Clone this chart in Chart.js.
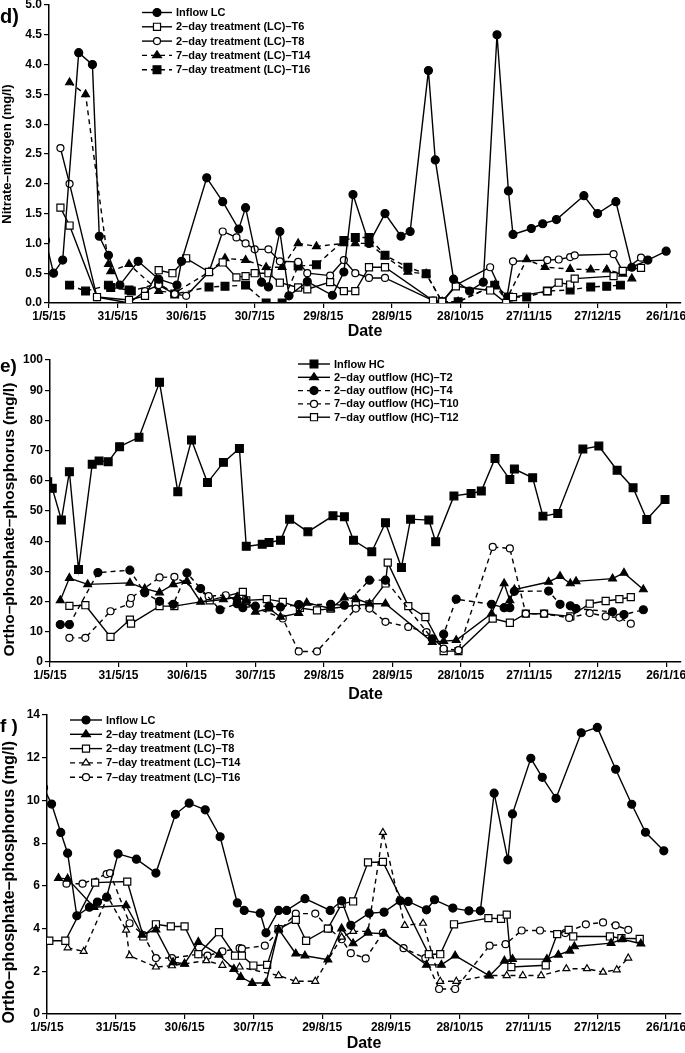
<!DOCTYPE html>
<html>
<head>
<meta charset="utf-8">
<script src="https://cdn.jsdelivr.net/npm/chart.js@4.4.0/dist/chart.umd.min.js"></script>
<style>
html, body { margin: 0; padding: 0; background: #fff; }
#wrap { position: relative; width: 685px; height: 1053px; overflow: hidden; }
#wrap canvas { position: absolute; left: 0; }
.lab { position: absolute; left: 0; font: bold 19px "Liberation Sans", Arial, sans-serif; color: #000; line-height: 1; }
</style>
</head>
<body>
<div id="wrap">
  <canvas id="cd" width="700" height="350" style="top:-5px"></canvas>
  <canvas id="ce" width="700" height="360" style="top:345px"></canvas>
  <canvas id="cf" width="700" height="348" style="top:705px"></canvas>
  <div class="lab" style="top:6px;font-size:20px">d)</div>
  <div class="lab" style="top:356px">e)</div>
  <div class="lab" style="top:716px">f )</div>
</div>
<script>
// x values are days counted from 1/5/15
var tickDays = [0, 30, 60, 90, 120, 150, 180, 210, 240, 270];
var tickLabels = ['1/5/15', '31/5/15', '30/6/15', '30/7/15', '29/8/15', '28/9/15', '28/10/15', '27/11/15', '27/12/15', '26/1/16'];

// d) nitrate-nitrogen (mg/l)
var dNames = ['Inflow LC', '2\u2013day treatment (LC)\u2013T6', '2\u2013day treatment (LC)\u2013T8', '7\u2013day treatment (LC)\u2013T14', '7\u2013day treatment (LC)\u2013T16'];
var dInflow = [[-1.5,1.05],[2,0.5],[6,0.72],[13,4.2],[19,4.0],[22,1.12],[26,0.8],[31,0.3],[39,0.7],[48,0.4],[56,0.3],[58,0.7],[69,2.1],[76,1.7],[83,1.24],[86,1.6],[93,0.35],[96,0.27],[101,1.2],[105,0.12],[113,0.36],[124,0.13],[129,0.52],[133,1.82],[140,1.0],[147,1.5],[154,1.12],[158,1.2],[166,3.9],[169,2.4],[177,0.4],[184,0.2],[190,0.35],[196,4.5],[201,1.88],[203,1.15],[211,1.25],[216,1.33],[222,1.4],[234,1.8],[240,1.5],[248,1.7],[255,0.6],[262,0.72],[270,0.87]];
var dT6 = [[5,1.6],[9,1.3],[21,0.1],[35,0.05],[42,0.12],[48,0.55],[54,0.5],[60,0.75],[70,0.52],[76,0.68],[82,0.43],[86,0.45],[90,0.5],[96,0.5],[101,0.34],[109,0.26],[113,0.23],[123,0.35],[129,0.2],[134,0.2],[140,0.6],[147,0.6],[168,0.04],[172,0.02],[178,0.28],[193,0.21],[200,0.0],[203,0.1],[218,0.2],[223,0.34],[228,0.31],[230,0.41],[247,0.45],[251,0.54],[259,0.59]];
var dT8 = [[5,2.6],[9,2.0],[21,0.1],[35,0.0],[42,0.2],[48,0.3],[55,0.15],[60,0.12],[70,0.52],[76,1.2],[82,1.1],[86,1.0],[90,0.9],[96,0.9],[101,0.7],[109,0.69],[113,0.5],[123,0.46],[129,0.72],[134,0.5],[140,0.42],[147,0.42],[168,0.04],[172,0.02],[178,0.3],[193,0.6],[200,0.02],[203,0.7],[218,0.72],[223,0.73],[228,0.77],[230,0.8],[247,0.82],[251,0.53],[259,0.76]];
var dT14 = [[9,3.7],[16,3.5],[26,0.65],[27,0.53],[35,0.65],[48,0.2],[55,0.17],[70,0.52],[77,0.75],[86,0.72],[95,0.6],[102,0.6],[109,1.0],[117,0.95],[129,1.0],[134,1.0],[140,1.0],[147,0.78],[157,0.52],[165,0.49],[172,0.02],[179,0.02],[195,0.3],[200,0.05],[209,0.73],[217,0.6],[228,0.57],[237,0.56],[244,0.56],[251,0.49],[255,0.41]];
var dT16 = [[9,0.3],[16,0.2],[26,0.3],[27,0.26],[35,0.22],[36,0.2],[48,0.33],[55,0.15],[70,0.27],[77,0.28],[86,0.3],[95,0.0],[102,0.0],[109,0.62],[117,0.64],[129,1.05],[134,1.1],[140,1.1],[147,0.8],[157,0.6],[165,0.49],[172,0.02],[179,0.02],[195,0.3],[201,0.1],[209,0.1],[218,0.2],[228,0.22],[237,0.27],[244,0.28],[250,0.3]];

// e) ortho-phosphate-phosphorus, HC (mg/l)
var eNames = ['Inflow HC', '2\u2013day outflow (HC)\u2013T2', '2\u2013day outflow (HC)\u2013T4', '7\u2013day outflow (HC)\u2013T10', '7\u2013day outflow (HC)\u2013T12'];
var eInflow = [[-1,59.7],[1,57.5],[5,47],[8.5,63],[12.5,30.6],[18.5,65.5],[21.5,66.6],[25.5,66.3],[30.5,71.3],[39,74.4],[48,92.6],[56,56.4],[62,73.5],[69,59.4],[76,66.1],[83,70.7],[86,38.3],[93,39],[96,39.6],[101,40.3],[105,47.3],[113,43.1],[124,48.4],[129,48.1],[133,40.3],[141,36.5],[147,46.1],[154,31.3],[158,47.3],[166,47],[169,39.8],[177,55],[184.5,55.8],[189,56.6],[195,67.4],[201.5,60.4],[203.5,63.9],[211.5,61],[216,48.3],[222.5,49.2],[233.5,70.5],[240.5,71.5],[248.5,63.5],[255.5,57.7],[261.5,47.2],[269.5,53.8]];
var eT2 = [[4.5,20.4],[8.5,27.8],[16.5,25.7],[35,26.2],[41.5,24.3],[48,23],[54,25.7],[60,26.8],[66,19.9],[76,20.7],[82,21.5],[86,20.5],[90,16.6],[96,17.7],[101,14.9],[109,16.2],[112.5,19.6],[123,17.7],[129,21.3],[134,21],[140,19.3],[147,19.3],[167.5,6.6],[172.5,6.9],[178,7.2],[193.5,16],[199,26],[201.5,20.4],[203.5,24],[218.5,26.5],[223.5,28.4],[228,26],[230.5,26.7],[246.5,27.6],[251.5,29.5],[260,24]];
var eT4 = [[4.5,12.4],[8.5,12.4],[21,29.6],[35,30.4],[41.5,22.9],[48,20.1],[54,19.1],[60,29.5],[66,24.3],[74.5,17.3],[82,19.3],[84.5,18],[90,18.5],[96,18.5],[101,18.2],[109,19],[123,19.1],[129,18.8],[140,27.1],[147,27.1],[167.5,7.7],[172.5,9.2],[178,20.8],[193.5,19.1],[199,18],[201.5,18],[203.5,23.4],[218.5,23.5],[223.5,19.1],[228,18.6],[230.5,17.7],[246.5,16.6],[251.5,15.7],[260,17.3]];
var eT10 = [[8.5,8],[15.5,8],[26.5,16.8],[35,19.3],[35.5,21.2],[48,28],[54.5,28.2],[69.5,21.8],[77,22.1],[82,20.4],[102,14.4],[109,3.5],[117,3.5],[134,17.7],[140,17.7],[147,13.3],[157,11.6],[165,9.9],[172.5,4.4],[179,3.9],[194,38.1],[201.5,37.6],[208.5,16],[216.5,16],[227.5,14.6],[236.5,16.2],[243.5,15.1],[249.5,14.7],[254.5,12.7]];
var eT12 = [[8.5,18.6],[15.5,18.8],[26.5,8.3],[35,14],[35.5,12.7],[48,18.5],[54.5,18.5],[70,20.4],[84.5,23.2],[86,20.4],[95,20.8],[102,19.9],[109.5,17.9],[117,17.1],[123,17.7],[134,18.8],[140,19.1],[147,26],[148,32.9],[157,18.5],[164.5,14.9],[172.5,3.6],[179,3.6],[194,14.4],[201.5,13],[208.5,16],[216.5,16],[228,15.1],[236.5,19.3],[243.5,20.2],[249.5,20.8],[254.5,21.5]];

// f) ortho-phosphate-phosphorus, LC (mg/l)
var fNames = ['Inflow LC', '2\u2013day treatment (LC)\u2013T6', '2\u2013day treatment (LC)\u2013T8', '7\u2013day treatment (LC)\u2013T14', '7\u2013day treatment (LC)\u2013T16'];
var fInflow = [[-1.5,10.6],[2,9.83],[6,8.5],[9,7.53],[13,4.6],[18.5,5.0],[22,5.24],[26,5.47],[31,7.5],[39,7.25],[47.5,6.6],[56,9.35],[62,9.87],[69,9.56],[75.5,8.3],[83,5.2],[86,4.85],[93,4.72],[95.5,3.8],[101,4.85],[104.5,4.85],[112.5,5.4],[123.5,4.85],[128.5,5.3],[132.5,4.15],[140.5,4.72],[147,4.77],[154,5.3],[157.5,5.27],[165.5,4.88],[169,5.35],[177,4.96],[184,4.83],[189,4.83],[195,10.34],[201,7.22],[203,9.37],[211,11.97],[216,11.08],[222,10.1],[233,13.17],[240,13.42],[248,11.46],[255,9.82],[261,8.51],[269,7.64]];
var fT6 = [[5,6.36],[9,6.33],[20.5,5.0],[34.5,5.08],[41.5,3.7],[47.5,3.95],[55,2.42],[60,2.35],[66,3.37],[75,2.77],[81.5,2.1],[84.5,1.73],[89.5,1.45],[95.5,1.45],[101,3.97],[108.5,2.82],[112.5,2.73],[122.5,2.54],[128.5,4.0],[133.5,3.3],[140,3.8],[147,3.76],[165.5,2.3],[172,2.3],[178,2.73],[193,1.79],[199.5,2.49],[203,2.57],[218,2.57],[223,2.77],[228,2.96],[230,3.16],[246,3.32],[251,3.5],[259,3.29]];
var fT8 = [[1,3.43],[8,3.43],[21,6.15],[35,6.2],[42,3.63],[47.5,4.2],[54,4.1],[60,4.1],[66,2.8],[75,3.83],[82,2.73],[85,2.73],[90,2.27],[96,2.3],[101,3.97],[108.5,4.41],[113,3.43],[122.5,4.0],[128.5,5.16],[133.5,5.27],[140,7.1],[146.5,7.12],[166.5,2.8],[171.5,2.8],[177.5,4.2],[192.5,4.49],[198,4.46],[200.5,4.65],[202.5,2.2],[217.5,2.28],[222.5,3.74],[227.5,3.94],[229.5,3.63],[245.5,3.63],[250.5,3.55],[258.5,3.52]];
var fT14 = [[9,3.1],[16,2.93],[26.5,5.5],[34.5,3.93],[36,2.73],[47.5,2.2],[54.5,2.26],[60,2.35],[69.5,2.5],[76.5,2.28],[84,2.2],[101,1.8],[108.5,1.53],[117,1.53],[128.5,3.6],[133.5,3.87],[140,3.87],[146.5,8.5],[156,4.15],[164,4.25],[171.5,1.53],[178.5,1.53],[192.5,1.8],[200.5,1.8],[207.5,1.8],[215.5,1.8],[226.5,2.12],[235.5,2.12],[242.5,1.96],[248.5,2.07],[253.5,2.62]];
var fT16 = [[8.5,6.1],[15.5,6.1],[26,6.55],[27.5,6.6],[36,4.25],[42,3.7],[47.5,2.62],[54.5,2.62],[66,2.8],[70,2.73],[76.5,2.93],[84,3.08],[85,3.06],[95,3.2],[108.5,4.7],[117,4.7],[123,4.0],[128.5,3.5],[132.5,2.85],[139,2.6],[146.5,3.8],[155.5,3.08],[165,2.62],[171,1.17],[178,1.17],[193,3.2],[200,3.27],[207,3.91],[215,3.91],[226,3.79],[235,4.2],[242.5,4.29],[248,4.15],[253.5,3.94]];

var FONT = '"Liberation Sans", Arial, sans-serif';
var DASH = [5, 4];

function toXY(pairs) {
    return pairs.map(function (p) { return {x: p[0], y: p[1]}; });
}

function series(label, pairs, style, radius, open, dashed) {
    return {
        label: label,
        data: toXY(pairs),
        borderColor: '#000',
        borderWidth: 1.4,
        borderDash: dashed ? DASH : [],
        pointStyle: style,
        pointRadius: radius,
        pointBorderWidth: 1.2,
        pointBorderColor: '#000',
        pointBackgroundColor: open ? '#fff' : '#000',
        fill: false,
        tension: 0
    };
}

// marker drawing for the legend sample lines
function drawMark(ctx, style, r, open, x, y) {
    ctx.save();
    ctx.setLineDash([]);
    ctx.lineWidth = 1.2;
    ctx.strokeStyle = '#000';
    ctx.fillStyle = open ? '#fff' : '#000';
    ctx.beginPath();
    if (style === 'circle') {
        ctx.arc(x, y, r, 0, Math.PI * 2);
    } else if (style === 'rect') {
        var s = r * Math.SQRT1_2;
        ctx.rect(x - s, y - s, 2 * s, 2 * s);
    } else {
        ctx.moveTo(x, y - r);
        ctx.lineTo(x + r * 0.99, y + r * 0.5);
        ctx.lineTo(x - r * 0.99, y + r * 0.5);
        ctx.closePath();
    }
    ctx.fill();
    ctx.stroke();
    ctx.restore();
}

var lineLegend = {
    id: 'lineLegend',
    afterDraw: function (chart) {
        var o = chart.options.plugins.lineLegend;
        var ctx = chart.ctx;
        ctx.save();
        ctx.font = 'bold ' + o.size + 'px ' + FONT;
        ctx.textBaseline = 'middle';
        ctx.fillStyle = '#000';
        chart.data.datasets.forEach(function (ds, i) {
            var y = o.y + i * o.gap;
            ctx.strokeStyle = '#000';
            ctx.lineWidth = 1.4;
            ctx.setLineDash(ds.borderDash);
            ctx.beginPath();
            ctx.moveTo(o.x, y);
            ctx.lineTo(o.x + o.len, y);
            ctx.stroke();
            drawMark(ctx, ds.pointStyle, ds.pointRadius, ds.pointBackgroundColor === '#fff', o.x + o.len / 2, y);
            ctx.setLineDash([]);
            ctx.fillText(ds.label, o.x + o.len + 4, y + 0.5);
        });
        ctx.restore();
    }
};

function makeChart(id, datasets, cfg) {
    var tickFont = {family: FONT, weight: 'bold', size: 12};
    return new Chart(document.getElementById(id), {
        type: 'line',
        data: {datasets: datasets},
        plugins: [lineLegend],
        options: {
            responsive: false,
            animation: false,
            layout: {padding: {top: cfg.top, right: 19, bottom: 0, left: 0}},
            plugins: {
                legend: {display: false},
                tooltip: {enabled: false},
                lineLegend: cfg.legend
            },
            scales: {
                x: {
                    type: 'linear',
                    min: 0,
                    max: 276.5,
                    afterBuildTicks: function (s) { s.ticks = tickDays.map(function (v) { return {value: v}; }); },
                    afterFit: function (s) { s.height = cfg.xH; },
                    grid: {display: true, drawOnChartArea: false, drawTicks: true, tickLength: 5, color: '#000', lineWidth: 1.2},
                    border: {color: '#000', width: 1.5},
                    ticks: {
                        color: '#000', font: tickFont, maxRotation: 0, autoSkip: false, padding: 1,
                        callback: function (v) { var k = tickDays.indexOf(v); return k < 0 ? '' : tickLabels[k]; }
                    },
                    title: {display: true, text: 'Date', color: '#000', font: {family: FONT, weight: 'bold', size: 16}, padding: {top: 0, bottom: cfg.dateBottom}}
                },
                y: {
                    min: cfg.yMin,
                    max: cfg.yMax,
                    afterFit: function (s) { s.width = cfg.yW; },
                    grid: {display: true, drawOnChartArea: false, drawTicks: true, tickLength: 5, color: '#000', lineWidth: 1.2},
                    border: {color: '#000', width: 1.5},
                    ticks: {
                        color: '#000', font: tickFont, stepSize: cfg.yStep, padding: 2,
                        callback: function (v) { return v.toFixed(cfg.yDec); }
                    },
                    title: {display: true, text: cfg.yTitle, color: '#000', font: {family: FONT, weight: 'bold', size: cfg.yTitleSize}, padding: {top: 0, bottom: 0}}
                }
            }
        }
    });
}

makeChart('cd', [
    series(dNames[0], dInflow, 'circle', 4, false, false),
    series(dNames[1], dT6, 'rect', 5, true, false),
    series(dNames[2], dT8, 'circle', 3.5, true, false),
    series(dNames[3], dT14, 'triangle', 4.5, false, true),
    series(dNames[4], dT16, 'rect', 5.5, false, true)
], {top: 10, xH: 42, yW: 49, yMin: 0, yMax: 5, yStep: 0.5, yDec: 1, dateBottom: 4,
    yTitle: 'Nitrate\u2013nitrogen (mg/l)', yTitleSize: 13,
    legend: {x: 142, y: 17.5, gap: 14.3, len: 30, size: 11}});

// trailing spaces in the two long titles push the visible text down, as in the source figure
makeChart('ce', [
    series(eNames[0], eInflow, 'rect', 5.5, false, false),
    series(eNames[1], eT2, 'triangle', 4.5, false, false),
    series(eNames[2], eT4, 'circle', 4, false, true),
    series(eNames[3], eT10, 'circle', 3.5, true, true),
    series(eNames[4], eT12, 'rect', 5, true, false)
], {top: 15, xH: 43, yW: 50, yMin: 0, yMax: 100, yStep: 10, yDec: 0, dateBottom: 1,
    yTitle: 'Ortho\u2013phosphate\u2013phosphorus (mg/l)    ', yTitleSize: 15.5,
    legend: {x: 298, y: 19, gap: 13.3, len: 32, size: 11}});

makeChart('cf', [
    series(fNames[0], fInflow, 'circle', 4, false, false),
    series(fNames[1], fT6, 'triangle', 4.5, false, false),
    series(fNames[2], fT8, 'rect', 5, true, false),
    series(fNames[3], fT14, 'triangle', 4, true, true),
    series(fNames[4], fT16, 'circle', 3.5, true, true)
], {top: 10, xH: 39, yW: 47, yMin: 0, yMax: 14, yStep: 2, yDec: 0, dateBottom: 0,
    yTitle: 'Ortho\u2013phosphate\u2013phosphorus (mg/l)        ', yTitleSize: 16,
    legend: {x: 70, y: 15, gap: 14.3, len: 32, size: 11}});
</script>
</body>
</html>
